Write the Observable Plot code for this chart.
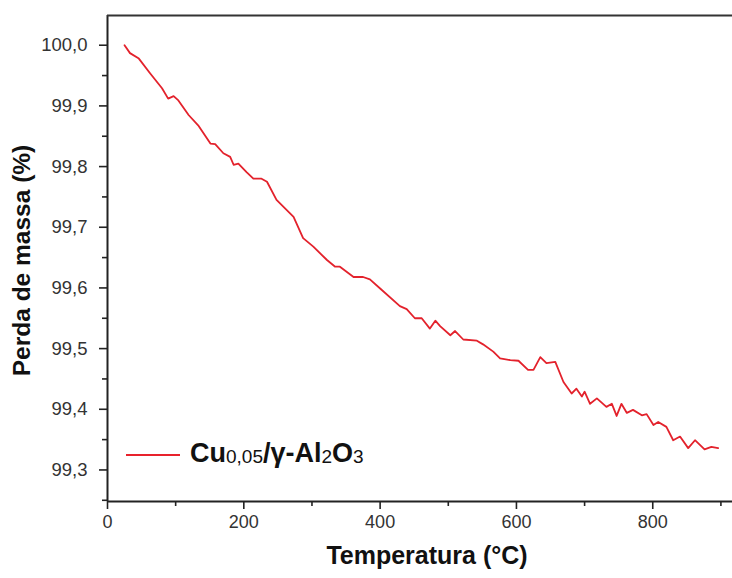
<!DOCTYPE html>
<html><head><meta charset="utf-8">
<script src="https://cdn.jsdelivr.net/npm/d3@7"></script>
<script src="https://cdn.jsdelivr.net/npm/@observablehq/plot@0.6"></script>
<style>
body{margin:0;background:#fff;}
#wrap{position:relative;width:732px;height:578px;font-family:"Liberation Sans",Arial,sans-serif;}
#legend{position:absolute;left:126px;top:436px;height:40px;white-space:nowrap;}
#legend .ln{position:absolute;left:0;top:18px;width:54px;height:0;border-top:2px solid #e8222c;}
#legend .tx{position:absolute;left:64px;top:-1px;font-weight:bold;font-size:27px;color:#111;line-height:36px;}
#legend sub{font-size:19px;font-weight:normal;vertical-align:baseline;position:relative;top:1px;}
</style></head><body><div id="wrap"><div id="legend"><div class="ln"></div><div class="tx">Cu<sub>0,05</sub>/γ-Al<sub>2</sub>O<sub>3</sub></div></div></div>
<script>
const temperature = [25,33,46,63,80,89,97,104,119,133,151,158,170,180,185,192,204,214,226,234,248,273,287,302,322,334,341,361,375,385,400,429,439,451,461,473,481,488,503,510,522,542,551,566,576,591,603,617,625,635,644,657,669,681,688,696,700,708,718,732,740,747,754,762,771,784,791,801,808,820,830,840,852,862,876,886,896];
const mass = [100.000,99.987,99.978,99.953,99.929,99.912,99.916,99.909,99.885,99.868,99.838,99.837,99.822,99.816,99.803,99.805,99.791,99.780,99.780,99.775,99.745,99.717,99.682,99.668,99.646,99.635,99.635,99.618,99.618,99.614,99.599,99.570,99.565,99.550,99.550,99.533,99.546,99.537,99.522,99.529,99.515,99.513,99.507,99.495,99.484,99.481,99.480,99.465,99.465,99.486,99.476,99.478,99.445,99.426,99.434,99.421,99.429,99.409,99.418,99.404,99.409,99.389,99.409,99.394,99.399,99.390,99.392,99.374,99.379,99.371,99.349,99.355,99.336,99.349,99.334,99.338,99.336];
const xMajorTicks = [0,200,400,600,800];
const xMinorTicks = [100,300,500,700,900];
const yMajorTicks = [99.3,99.4,99.5,99.6,99.7,99.8,99.9,100.0];
const yMinorTicks = [99.25,99.35,99.45,99.55,99.65,99.75,99.85,99.95];
const xDomain = [0, 917];
const yDomain = [99.248, 100.049];
const xLabel = "Temperatura (°C)";
const yLabel = "Perda de massa (%)";

const data = temperature.map((t,i)=>({t, m: mass[i]}));
const fmt = d => d.toFixed(1).replace(".", ",");

const chart = Plot.plot({
  width: 732, height: 578,
  marginLeft: 107, marginRight: 0, marginTop: 15, marginBottom: 77,
  style: {fontFamily: '"Liberation Sans", Arial, sans-serif', background: "#fff", overflow: "visible"},
  x: {domain: xDomain, axis: null},
  y: {domain: yDomain, axis: null},
  marks: [
    Plot.axisX(xMajorTicks, {label: null, tickSize: 8, tickPadding: 6, fontSize: 18, fill: "#333", stroke: "#222", strokeWidth: 1.6, tickFormat: d => String(d)}),
    Plot.axisX(xMinorTicks, {label: null, tickSize: 5, text: null, stroke: "#222", strokeWidth: 1.6}),
    Plot.axisY(yMajorTicks, {label: null, tickSize: 8, tickPadding: 12, fontSize: 18.5, fill: "#333", stroke: "#222", strokeWidth: 1.6, tickFormat: fmt}),
    Plot.axisY(yMinorTicks, {label: null, tickSize: 5, text: null, stroke: "#222", strokeWidth: 1.6}),
    Plot.ruleX([xDomain[0]], {stroke: "#222", strokeWidth: 2}),
    Plot.ruleY([yDomain[0]], {stroke: "#222", strokeWidth: 2}),
    Plot.ruleY([yDomain[1]], {stroke: "#333", strokeWidth: 2}),
    Plot.line(data, {x: "t", y: "m", stroke: "#e3222c", strokeWidth: 1.8}),
    Plot.text([yLabel], {frameAnchor: "left", textAnchor: "middle", dx: -85, dy: 2, rotate: -90, fontSize: 24.5, fontWeight: "bold", fill: "#111"}),
    Plot.text([xLabel], {frameAnchor: "bottom", textAnchor: "middle", dx: 7, dy: 62, fontSize: 25, fontWeight: "bold", fill: "#111"})
  ]
});
document.getElementById("wrap").prepend(chart);
</script>
</body></html>
